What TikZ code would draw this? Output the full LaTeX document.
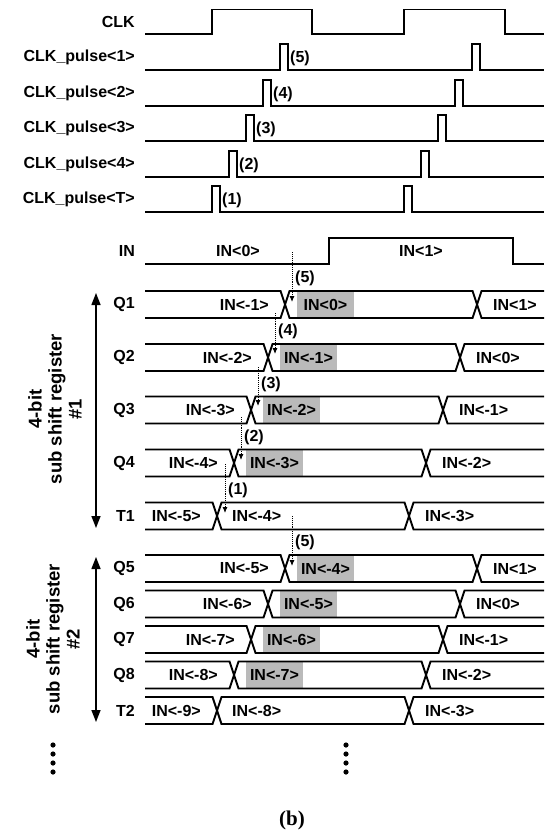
\documentclass[tikz,border=0pt]{standalone}
\usepackage{fontspec}
\setmainfont{Liberation Sans}
\newfontfamily\capserif{Liberation Serif}
\usetikzlibrary{arrows.meta}
\begin{document}
\begin{tikzpicture}[x=1pt, y=-1pt, line join=miter,
	sig/.style={line width=1.9pt},
	lbl/.style={font=\fontsize{16}{19}\selectfont\bfseries, inner sep=0pt},
	shade/.style={fill=black!27},
	hop/.style={densely dotted, line width=0.9pt, -{Latex[length=6pt,width=5pt]}},
	regspan/.style={line width=1.4pt, {Triangle[length=12pt,width=9pt]}-{Triangle[length=12pt,width=9pt]}}]
	\useasboundingbox (0,0) rectangle (544,834);
	% clock and pulses
	\node[lbl, anchor=east] (lclk) at (135,22) {CLK};
	\draw[sig] (145,34)--(212,34)--(212,9.5)--(312,9.5)--(312,34)--(404,34)--(404,9.5)--(505,9.5)--(505,34)--(544,34);
	\foreach \nm/\b/\p/\k in {1/70/280/5, 2/106/263/4, 3/141/246/3, 4/177/229/2, T/212/212/1}{
		\node[lbl, anchor=east] (lp\nm) at (135,{\b-13}) {CLK\_pulse<\nm>};
		\draw[sig] (145,\b)--(\p,\b)--(\p,{\b-26})--({\p+8},{\b-26})--({\p+8},\b)--({\p+192},\b)--({\p+192},{\b-26})--({\p+200},{\b-26})--({\p+200},\b)--(544,\b);
		\node[lbl, anchor=west] (np\nm) at ({\p+10},{\b-12}) {(\k)};
	}
	% input
	\node[lbl, anchor=east] (lin) at (135,251) {IN};
	\draw[sig] (145,264)--(329,264)--(329,238)--(513,238)--(513,264)--(544,264);
	\node[lbl] (in0) at (238,251) {IN<0>};
	\node[lbl] (in1) at (421,251) {IN<1>};
	% register outputs
	\foreach \nm/\yc/\ca/\la/\lb/\lc/\g in {Q1/304.5/285/IN<-1>/IN<0>/IN<1>/1, Q2/357.5/268/IN<-2>/IN<-1>/IN<0>/1,
		Q3/410/251/IN<-3>/IN<-2>/IN<-1>/1, Q4/463/234/IN<-4>/IN<-3>/IN<-2>/1, T1/516/217/IN<-5>/IN<-4>/IN<-3>/0,
		Q5/568.5/285/IN<-5>/IN<-4>/IN<1>/1, Q6/604/268/IN<-6>/IN<-5>/IN<0>/1, Q7/639.5/251/IN<-7>/IN<-6>/IN<-1>/1,
		Q8/675/234/IN<-8>/IN<-7>/IN<-2>/1, T2/710.5/217/IN<-9>/IN<-8>/IN<-3>/0}{
		\ifnum\g=1 \fill[shade] ({\ca+12},{\yc-13.5}) rectangle ({\ca+69},{\yc+13.5}); \fi
		\draw[sig] (145,{\yc-13.5})--({\ca-4.5},{\yc-13.5})--({\ca+4.5},{\yc+13.5})--({\ca+187.5},{\yc+13.5})--({\ca+196.5},{\yc-13.5})--(544,{\yc-13.5});
		\draw[sig] (145,{\yc+13.5})--({\ca-4.5},{\yc+13.5})--({\ca+4.5},{\yc-13.5})--({\ca+187.5},{\yc-13.5})--({\ca+196.5},{\yc+13.5})--(544,{\yc+13.5});
		\node[lbl, anchor=east] (l\nm) at (135,\yc) {\nm};
		\node[lbl, anchor=east] (a\nm) at ({\ca-16},\yc) {\la};
		\ifnum\g=1 \node[lbl] (b\nm) at ({\ca+40.5},\yc) {\lb};
		\else \node[lbl, anchor=west] (b\nm) at ({\ca+15},\yc) {\lb}; \fi
		\node[lbl, anchor=west] (c\nm) at ({\ca+208},\yc) {\lc};
	}
	% shifting order
	\foreach \nm/\x/\ya/\yb/\ty/\k in {a/292/252/302/278/5, b/275/313/354/331/4, c/258/367/406/384/3,
		d/241/417/460/437/2, e/225/464/513/490/1, f/292/516/566/542/5}{
		\coordinate (s\nm) at (\x,\ya);
		\coordinate (t\nm) at (\x,\yb);
		\draw[hop] (s\nm)--(t\nm);
		\node[lbl, anchor=west] (h\nm) at ({\x+3},\ty) {(\k)};
	}
	% sub shift registers
	\coordinate (top1) at (96,293); \coordinate (bot1) at (96,528);
	\coordinate (top2) at (96,557); \coordinate (bot2) at (96,722);
	\draw[regspan] (top1)--(bot1);
	\draw[regspan] (top2)--(bot2);
	\node[lbl, font=\fontsize{18.5}{20}\selectfont\bfseries, rotate=90, align=center] (reg1) at (55,409) {4-bit\\sub shift register\\\#1};
	\node[lbl, font=\fontsize{18.5}{20}\selectfont\bfseries, rotate=90, align=center] (reg2) at (53,639) {4-bit\\sub shift register\\\#2};
	% more registers
	\foreach \i in {0,...,3}{
		\fill (53,{745+9*\i}) circle (2.6);
		\fill (346,{745+9*\i}) circle (2.6);
	}
	\node[font=\capserif\fontsize{21}{24}\selectfont\bfseries] (cap) at (292,820) {(b)};
\end{tikzpicture}
\end{document}
